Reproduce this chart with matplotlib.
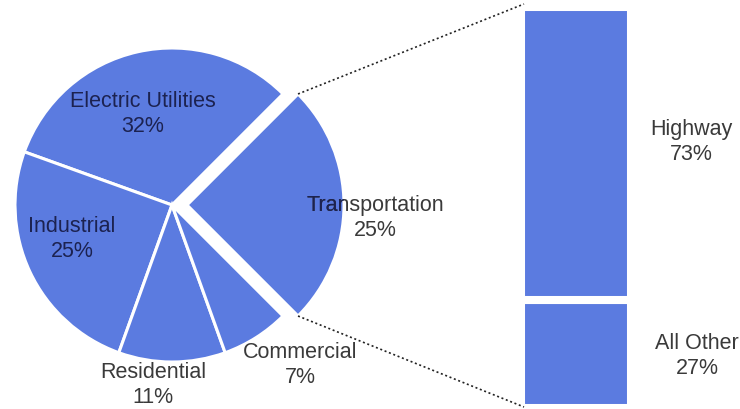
import matplotlib.pyplot as plt
import numpy as np
from matplotlib.transforms import Bbox, TransformedBbox

# energy use by sector (percent)
sectors = ["Transportation", "Electric Utilities", "Industrial", "Residential", "Commercial"]
shares = [25, 32, 25, 11, 7]
# breakdown of transportation (percent), bottom to top
transport_parts = ["All Other", "Highway"]
transport_shares = [27, 73]

W, H = 740, 410
BLUE = "#5b7be0"
INK_IN = "#1c2250"
INK_OUT = "#3a3a3a"

plt.rcParams['font.family'] = ['Liberation Sans', 'DejaVu Sans']

fig = plt.figure(figsize=(7.4, 4.1), dpi=100)
ax = fig.add_axes([0, 0, 1, 1])

# pie, in pixel units (y measured from the bottom)
cx, cy, r = 172, H - 206, 157
wedges, _ = ax.pie(shares, explode=[15, 0, 0, 0, 0], startangle=-45, counterclock=True,
                   center=(cx, cy), radius=r, colors=[BLUE] * len(shares),
                   wedgeprops=dict(edgecolor="white", linewidth=2.2))

# zoom bar for transportation
bx, bw = 576, 110
b_bottom, b_top = 1, H - 8
scale = (b_top - b_bottom) / sum(transport_shares)
bottom = b_bottom
for val in transport_shares:
    ax.bar(bx, val * scale, width=bw, bottom=bottom, color=BLUE,
           edgecolor="white", linewidth=5.8)
    bottom += val * scale

# dotted connectors from the exploded slice corners to the bar
tw = wedges[0]
ox, oy = tw.center
for ang, end_y in [(tw.theta2, H - 5), (tw.theta1, H - 408)]:
    sx = ox + r * np.cos(np.radians(ang))
    sy = oy + r * np.sin(np.radians(ang))
    ax.plot([sx, 524], [sy, end_y], color="#222222", lw=1.2,
            linestyle=(0, (1.2, 1.6)))

fs = 15.5


def label(x, y, name, val, color):
    return ax.text(x, H - y, f"{name}\n{val}%", ha="center", va="center",
                   fontsize=fs, color=color, linespacing=1.3)


label(143, 114, sectors[1], shares[1], INK_IN)
label(72, 239, sectors[2], shares[2], INK_IN)
label(153, 385, sectors[3], shares[3], INK_OUT)
label(300, 365, sectors[4], shares[4], INK_OUT)

# transportation label crosses the slice edge: darker where it sits on the slice
label(375, 218, sectors[0], shares[0], INK_OUT)
t_in = label(375, 218, sectors[0], shares[0], INK_IN)
t_in.set_clip_box(TransformedBbox(Bbox([[0, 0], [ox + r, H]]), ax.transData))
t_in.set_clip_on(True)

label(691, 142, transport_parts[1], transport_shares[1], INK_OUT)
label(697, 356, transport_parts[0], transport_shares[0], INK_OUT)

ax.set_xlim(0, W)
ax.set_ylim(0, H)
ax.set_aspect("auto")
ax.axis("off")

fig.savefig("out.png", dpi=100)
